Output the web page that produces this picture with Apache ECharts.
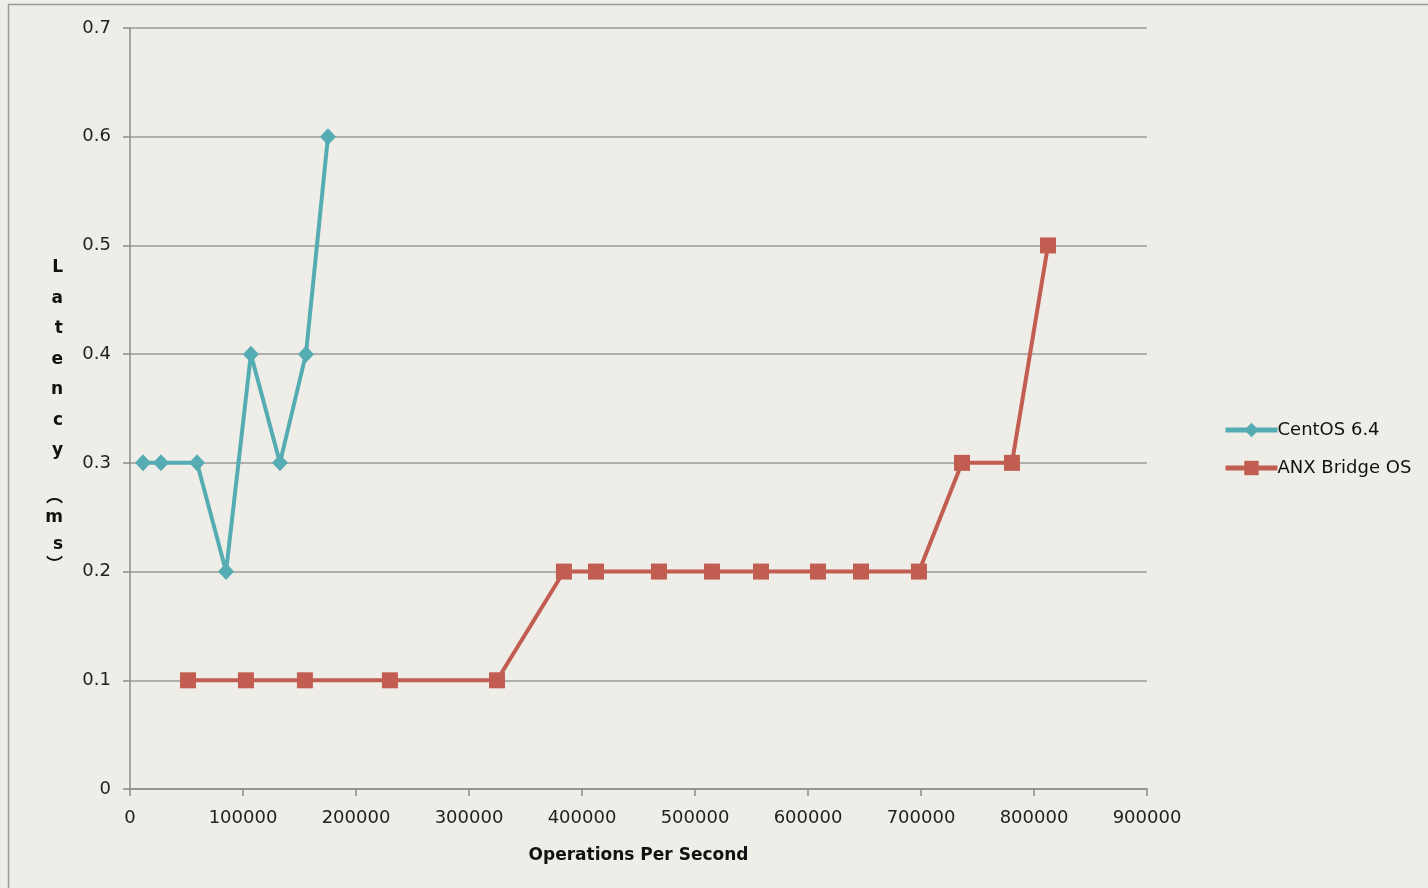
<!DOCTYPE html>
<html><head><meta charset="utf-8">
<script src="https://cdn.jsdelivr.net/npm/echarts@6/dist/echarts.min.js"></script>
<style>html,body{margin:0;padding:0;background:#EEEDE7;}#c{width:1428px;height:888px;}</style>
</head><body><div id="c"></div>
<script>
const centosX = [11500, 27400, 59300, 85000, 107000, 132700, 155700, 175200];
const centosY = [0.3, 0.3, 0.3, 0.2, 0.4, 0.3, 0.4, 0.6];
const anxX = [51300, 102600, 154800, 230000, 324800, 384000, 412400, 468100, 515000, 558400, 608800, 646900, 698200, 736300, 780500, 812400];
const anxY = [0.1, 0.1, 0.1, 0.1, 0.1, 0.2, 0.2, 0.2, 0.2, 0.2, 0.2, 0.2, 0.2, 0.3, 0.3, 0.5];
const seriesNames = ['CentOS 6.4', 'ANX Bridge OS'];
const xTitle = 'Operations Per Second';
const yTitleWord = 'Latency';
const yTitleUnit = 'ms';

const yTitleStacked = yTitleWord.split('').map(c => '{a|' + c + '}').join('\n')
  + '\n{g| }\n{p|\uFE35}\n' + yTitleUnit.split('').map(c => '{b|' + c + '}').join('\n') + '\n{p|\uFE36}';
const font = '"DejaVu Sans", Verdana, sans-serif';
const tfont = '"DejaVu Sans", "Noto Sans CJK SC", sans-serif';
const chart = echarts.init(document.getElementById('c'));
chart.setOption({
  backgroundColor: '#EEEDE7',
  animation: false,
  graphic: [{type:'rect', shape:{x:8.5,y:4.5,width:1440,height:920}, style:{fill:'none', stroke:'#9a9a9a', lineWidth:1.5}, silent:true}],
  grid: {left:130, top:28, right:281, bottom:99},
  legend: {
    orient:'vertical', left:1218, top:416, itemWidth:52, itemHeight:18, itemGap:20,
    lineStyle:{width:5},
    textStyle:{fontFamily:font, fontSize:18, color:'#111', padding:[0,0,0,-5]},
    data: seriesNames
  },
  xAxis: {
    type:'value', min:0, max:900000, interval:100000,
    name:xTitle, nameLocation:'middle', nameGap:58,
    nameTextStyle:{fontFamily:font, fontSize:17, fontWeight:'bold', color:'#111'},
    axisLine:{lineStyle:{color:'#8c8c8c', width:1.5}},
    axisTick:{show:true, length:7, lineStyle:{color:'#8c8c8c', width:1.5}},
    axisLabel:{fontFamily:font, fontSize:18, color:'#222', margin:20, formatter:v=>String(v)},
    splitLine:{show:false}
  },
  yAxis: {
    type:'value', min:0, max:0.7, interval:0.1,
    name:yTitleStacked, nameLocation:'middle', nameRotate:0, nameGap:67,
    nameTextStyle:{
      fontFamily:tfont, fontSize:17, fontWeight:'bold', color:'#111', padding:[8,0,0,0],
      rich:{
        a:{fontFamily:tfont, fontSize:17, fontWeight:'bold', color:'#111', lineHeight:30.5},
        b:{fontFamily:tfont, fontSize:17, fontWeight:'bold', color:'#111', lineHeight:27},
        p:{fontFamily:tfont, fontSize:17, fontWeight:'bold', color:'#111', lineHeight:14},
        g:{fontSize:10, lineHeight:24}
      }
    },
    axisLine:{show:true, lineStyle:{color:'#8c8c8c', width:1.5}},
    axisTick:{show:true, length:7, lineStyle:{color:'#8c8c8c', width:1.5}},
    axisLabel:{fontFamily:font, fontSize:18, color:'#222', margin:19, formatter:v=>String(+v.toFixed(1))},
    splitLine:{show:true, lineStyle:{color:'#9a9a9a', width:1.5}}
  },
  series: [
    {name:seriesNames[0], type:'line', data:centosX.map((x,i)=>[x,centosY[i]]),
     symbol:'diamond', symbolSize:[16,17], itemStyle:{color:'#55ADB3'}, lineStyle:{width:4, color:'#55ADB3'}},
    {name:seriesNames[1], type:'line', data:anxX.map((x,i)=>[x,anxY[i]]),
     symbol:'rect', symbolSize:16, itemStyle:{color:'#C25E51'}, lineStyle:{width:4, color:'#C25E51'}}
  ]
});
</script></body></html>
